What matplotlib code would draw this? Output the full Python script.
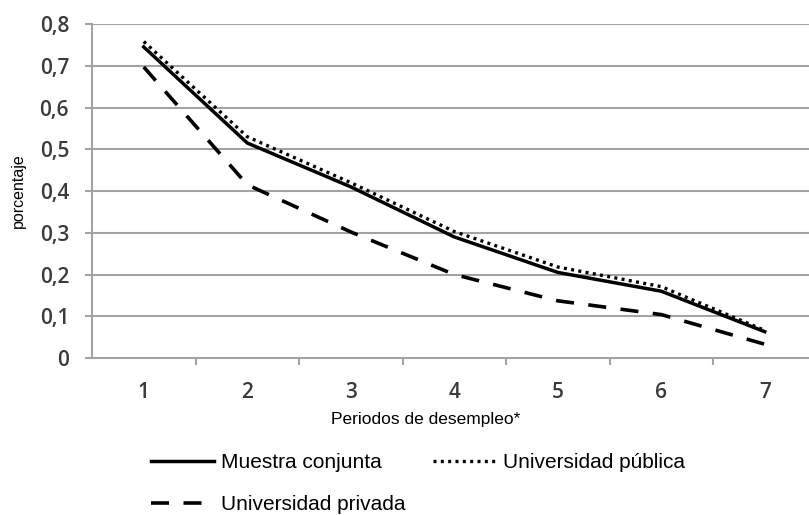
import matplotlib
matplotlib.use("Agg")
import matplotlib.pyplot as plt
from matplotlib.ticker import FuncFormatter, FixedLocator

periodos = [1, 2, 3, 4, 5, 6, 7]
muestra_conjunta = [0.745, 0.515, 0.41, 0.29, 0.205, 0.16, 0.063]
univ_publica = [0.758, 0.53, 0.42, 0.303, 0.218, 0.171, 0.066]
univ_privada = [0.697, 0.415, 0.302, 0.2, 0.137, 0.104, 0.033]
y_ticks = [0, 0.1, 0.2, 0.3, 0.4, 0.5, 0.6, 0.7, 0.8]

W, H = 809, 515
fig = plt.figure(figsize=(W / 100, H / 100), dpi=100)
ax = fig.add_axes([92 / W, (H - 358) / H, 1 - 92 / W, (358 - 24) / H])

grid_col = "#a3a3a3"
tick_col = "#3a3a3a"
for v in y_ticks[1:]:
    ax.axhline(v, color=grid_col, lw=1.5, zorder=1)

l_pub, = ax.plot(periodos, univ_publica, color="black", lw=2.4,
                 linestyle=(0, (0.9, 1.3)), zorder=3, label="Universidad pública")
l_priv, = ax.plot(periodos, univ_privada, color="black", lw=2.6,
                  linestyle=(0, (5, 4)), zorder=3, label="Universidad privada")
l_mc, = ax.plot(periodos, muestra_conjunta, color="black", lw=2.5,
                zorder=4, label="Muestra conjunta")

ax.set_xlim(0.5, 0.5 + (W - 92) / 103.5)
ax.set_ylim(0, 0.8)

for s in ["top", "right"]:
    ax.spines[s].set_visible(False)
for s in ["left", "bottom"]:
    ax.spines[s].set_color(grid_col)
    ax.spines[s].set_linewidth(1.5)

ax.set_yticks(y_ticks)
ax.yaxis.set_major_formatter(FuncFormatter(lambda v, p: "0" if v == 0 else f"{v:.1f}".replace(".", ",")))
ax.tick_params(axis="y", length=5, width=1.5, color=grid_col, pad=11.5,
               labelsize=15, labelcolor=tick_col)
for t in ax.get_yticklabels():
    t.set_family("Open Sans")
    t.set_fontweight("semibold")

ax.set_xticks(periodos)
ax.set_xticklabels([str(p) for p in periodos], family="Open Sans", fontweight="semibold")
ax.xaxis.set_minor_locator(FixedLocator([1.5, 2.5, 3.5, 4.5, 5.5, 6.5]))
ax.tick_params(axis="x", which="major", length=0, pad=17, labelsize=15, labelcolor=tick_col)
ax.tick_params(axis="x", which="minor", length=5, width=1.5, color=grid_col)

ax.set_xlabel("Periodos de desempleo*", family="Liberation Sans", fontsize=12.5)
ax.xaxis.set_label_coords((426 - 92) / (W - 92), -(412 - 358) / (358 - 24))
ax.set_ylabel("porcentaje", family="Liberation Sans", fontsize=11.5, labelpad=9.5)

fig.legend(handles=[l_mc, l_priv, l_pub],
           labels=["Muestra conjunta", "Universidad privada", "Universidad pública"],
           ncol=2, loc="upper left", bbox_to_anchor=(151 / W, (H - 453) / H),
           frameon=False, borderpad=0, borderaxespad=0, handlelength=3.0,
           handletextpad=0.35, columnspacing=1.35, labelspacing=1.1,
           prop={"family": "Liberation Sans", "size": 15})

fig.savefig("out.png", dpi=100)
